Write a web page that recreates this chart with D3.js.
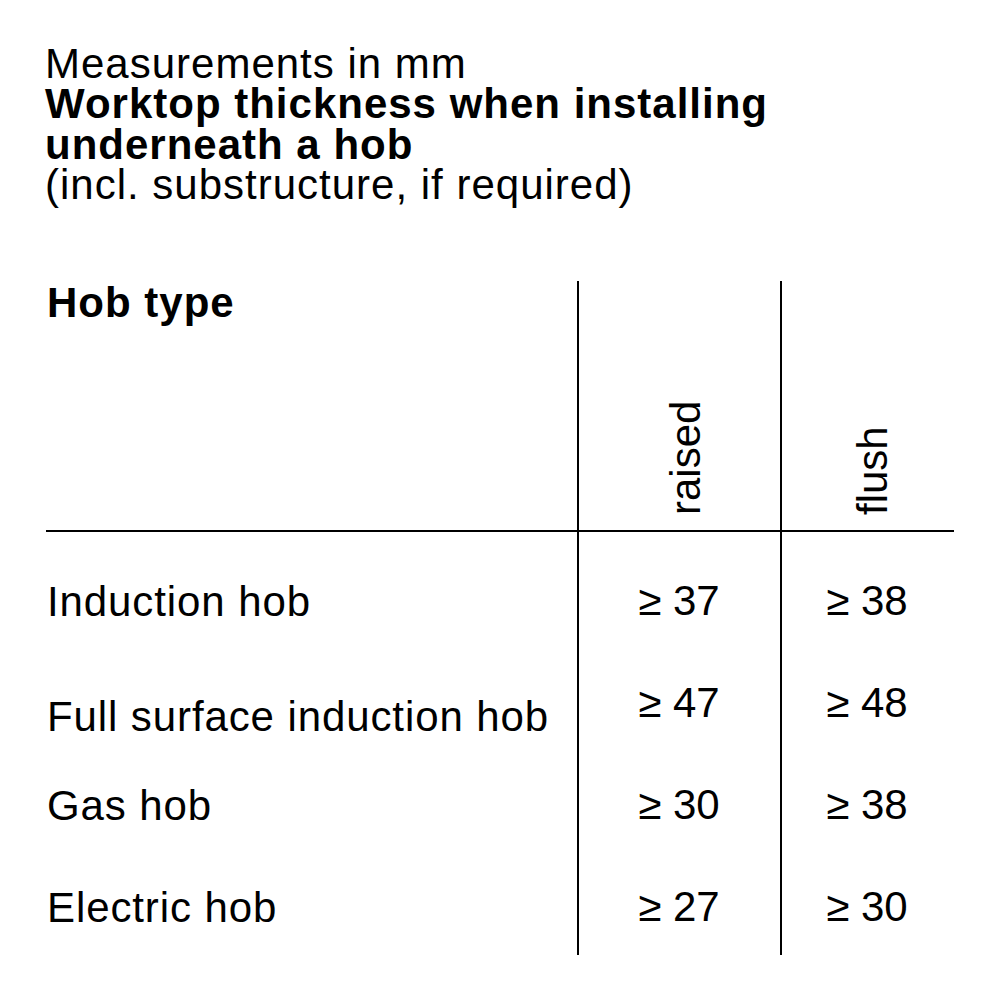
<!DOCTYPE html>
<html>
<head>
<meta charset="utf-8">
<script src="https://cdn.jsdelivr.net/npm/d3@7"></script>
<style>
  html, body { margin: 0; padding: 0; background: #fff; }
  svg { display: block; font-family: "Liberation Sans", Arial, Helvetica, sans-serif; }
</style>
</head>
<body>
<svg id="chart" width="1000" height="1000"></svg>
<script>
/**
 * DATA
 */
var titleLines = ["Measurements in mm", "Worktop thickness when installing", "underneath a hob", "(incl. substructure, if required)"];
var titleBold = [false, true, true, false];
var rowHeader = "Hob type";
var hobTypes = ["Induction hob", "Full surface induction hob", "Gas hob", "Electric hob"];
var mountings = ["raised", "flush"];
var raisedValues = [37, 47, 30, 27];
var flushValues = [38, 48, 38, 30];

/**
 * LAYOUT
 */
var svg = d3.select("#chart");
svg.append("rect").attr("width", 1000).attr("height", 1000).attr("fill", "#fff");

var colX = d3.scaleOrdinal().domain(mountings).range([679, 867]);
var rowY = d3.scalePoint().domain(hobTypes).range([616, 922]);

// title block (lines are set tight, like the original)
svg.append("g").selectAll("text")
    .data(titleLines)
    .join("text")
    .attr("x", 45)
    .attr("y", function(d, i) { return [78, 118, 159, 199][i]; })
    .attr("font-size", 42)
    .attr("letter-spacing", 1)
    .attr("font-weight", function(d, i) { return titleBold[i] ? "bold" : "normal"; })
    .attr("fill", "#000")
    .text(function(d) { return d; });

svg.append("text")
    .attr("x", 47).attr("y", 317)
    .attr("font-size", 42).attr("font-weight", "bold")
    .attr("letter-spacing", 1)
    .text(rowHeader);

// grid lines
var grid = svg.append("g").attr("stroke", "#000").attr("stroke-width", 2);
grid.append("line").attr("x1", 46).attr("x2", 954).attr("y1", 531).attr("y2", 531);
[578, 781].forEach(function(x) {
    grid.append("line").attr("x1", x).attr("x2", x).attr("y1", 281).attr("y2", 955);
});

// rotated column headers
svg.append("g").selectAll("text")
    .data(mountings)
    .join("text")
    .attr("transform", function(d) { return "translate(" + (colX(d) + (d === "raised" ? 21 : 20)) + ",515) rotate(-90)"; })
    .attr("font-size", 42)
    .text(function(d) { return d; });

// row labels (second label sits a bit lower in the original)
svg.append("g").selectAll("text")
    .data(hobTypes)
    .join("text")
    .attr("x", 47)
    .attr("y", function(d, i) { return rowY(d) + (i === 1 ? 13 : 0); })
    .attr("font-size", 42)
    .attr("letter-spacing", 0.9)
    .text(function(d) { return d; });

// values
var cells = [];
hobTypes.forEach(function(h, i) {
    cells.push({ row: h, col: "raised", v: raisedValues[i] });
    cells.push({ row: h, col: "flush", v: flushValues[i] });
});
svg.append("g").selectAll("text")
    .data(cells)
    .join("text")
    .attr("x", function(d) { return colX(d.col); })
    .attr("y", function(d) { return rowY(d.row) - 1; })
    .attr("text-anchor", "middle")
    .attr("font-size", 42)
    .text(function(d) { return "\u2265 " + d.v; });
</script>
</body>
</html>
